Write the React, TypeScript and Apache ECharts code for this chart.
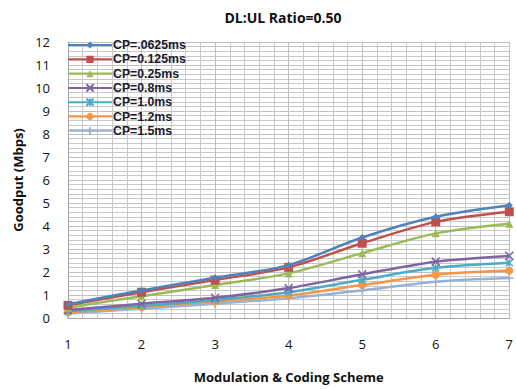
import React, { useEffect, useRef } from "react";
import * as echarts from "echarts";

const schemes = [1, 2, 3, 4, 5, 6, 7];
const seriesNames = ["CP=.0625ms", "CP=0.125ms", "CP=0.25ms", "CP=0.8ms", "CP=1.0ms", "CP=1.2ms", "CP=1.5ms"];
const cp0625 = [0.6, 1.2, 1.75, 2.3, 3.5, 4.4, 4.9];
const cp0125 = [0.55, 1.12, 1.65, 2.2, 3.25, 4.18, 4.62];
const cp025 = [0.45, 0.95, 1.43, 1.94, 2.82, 3.68, 4.1];
const cp08 = [0.35, 0.62, 0.88, 1.3, 1.9, 2.45, 2.7];
const cp10 = [0.3, 0.52, 0.78, 1.12, 1.66, 2.18, 2.4];
const cp12 = [0.25, 0.47, 0.72, 0.98, 1.43, 1.88, 2.06];
const cp15 = [0.2, 0.4, 0.62, 0.86, 1.2, 1.58, 1.74];
const yTicks = [0, 12];

const colors = ["#4F81BD", "#C0504D", "#9BBB59", "#8064A2", "#4BACC6", "#F79646", "#95B3D7"];
const symbols = [
  "diamond",
  "rect",
  "triangle",
  "path://M0,0L10,10M10,0L0,10",
  "path://M0,0L10,10M10,0L0,10M5,0L5,10",
  "circle",
  "path://M5,0L5,10M0,5L10,5",
];
const symbolSizes = [7, 9, 8, 8, 7, 8, 9];
const FONT = "'Open Sans', Lato, sans-serif";
const LEGEND_FONT = "'Liberation Sans', Arial, sans-serif";

export default function App() {
  const ref = useRef<HTMLDivElement>(null);
  useEffect(() => {
    if (!ref.current) return;
    const chart = echarts.init(ref.current, null, { renderer: "svg" });
    const all = [cp0625, cp0125, cp025, cp08, cp10, cp12, cp15];
    const series = all.map((vals, i) => ({
      name: seriesNames[i],
      type: "line",
      smooth: 0.3,
      data: vals.map((v, j) => [schemes[j], v]),
      symbol: symbols[i],
      symbolSize: symbolSizes[i],
      lineStyle: { color: colors[i], width: 2.5 },
      itemStyle: { color: colors[i], borderColor: colors[i], borderWidth: symbols[i].startsWith("path") ? 1.5 : 0 },
      z: 10 - i,
    }));
    chart.setOption({
      animation: false,
      title: {
        text: "DL:UL Ratio=0.50",
        left: 278,
        textAlign: "center",
        top: 5,
        textStyle: { fontFamily: FONT, fontSize: 14, fontWeight: "bold", color: "#111" },
      },
      legend: {
        orient: "vertical",
        left: 67,
        top: 38,
        itemGap: 0.3,
        itemWidth: 44,
        itemHeight: 9,
        padding: 0,
        data: seriesNames,
        textStyle: {
          fontFamily: LEGEND_FONT,
          fontSize: 12.3,
          lineHeight: 14,
          height: 14,
          fontWeight: "bold",
          color: "#1a1a2e",
          padding: [0, 0, 0, -4],
        },
      },
      grid: { left: 68, right: 3, top: 42, bottom: 71, containLabel: false },
      xAxis: {
        type: "value",
        min: 1,
        max: 7,
        interval: 1,
        name: "Modulation & Coding Scheme",
        nameLocation: "middle",
        nameGap: 52,
        nameTextStyle: { fontFamily: FONT, fontSize: 13, fontWeight: "bold", color: "#111" },
        axisLine: { show: true, lineStyle: { color: "#A6A6A6" } },
        axisTick: { show: false },
        axisLabel: { margin: 19, fontFamily: FONT, fontSize: 13, color: "#111" },
        splitLine: { show: true, lineStyle: { color: "#BFBFBF", width: 1 } },
        minorTick: { show: false, splitNumber: 5 },
        minorSplitLine: { show: true, lineStyle: { color: "#C8C8C8", width: 1 } },
      },
      yAxis: {
        type: "value",
        min: yTicks[0],
        max: yTicks[1],
        interval: 1,
        name: "Goodput (Mbps)",
        nameLocation: "middle",
        nameGap: 42,
        nameRotate: 90,
        nameTextStyle: { fontFamily: FONT, fontSize: 13, fontWeight: "bold", color: "#111" },
        axisLine: { show: true, lineStyle: { color: "#A6A6A6" } },
        axisTick: { show: false },
        axisLabel: { margin: 18, fontFamily: FONT, fontSize: 13, color: "#111" },
        splitLine: { show: true, lineStyle: { color: "#BFBFBF", width: 1 } },
        minorTick: { show: false, splitNumber: 5 },
        minorSplitLine: { show: true, lineStyle: { color: "#C8C8C8", width: 1 } },
      },
      series,
    });
    return () => chart.dispose();
  }, []);
  return <div ref={ref} style={{ width: 516, height: 389, position: "absolute", left: 0, top: 0, background: "#fff" }} />;
}
